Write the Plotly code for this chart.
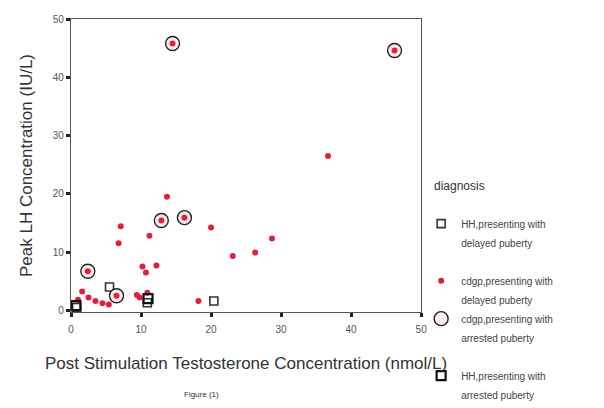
import plotly.graph_objects as go

# Data
hh_delayed_x = [20.4, 5.5, 10.9, 0.8]
hh_delayed_y = [1.6, 4.0, 1.3, 0.5]

cdgp_delayed_x = [36.7, 13.7, 7.1, 6.8, 11.2, 20.0, 28.7, 23.1, 26.3, 12.2, 10.2, 10.7,
                  18.2, 9.4, 10.9, 1.6, 2.5, 3.5, 4.5, 1.0, 5.4, 9.8]
cdgp_delayed_y = [26.5, 19.5, 14.4, 11.5, 12.8, 14.2, 12.3, 9.3, 9.9, 7.7, 7.5, 6.5,
                  1.6, 2.6, 3.0, 3.2, 2.2, 1.6, 1.2, 1.8, 1.0, 2.2]

cdgp_arrested_x = [14.5, 46.2, 12.9, 16.2, 2.4, 6.5]
cdgp_arrested_y = [45.8, 44.6, 15.4, 15.9, 6.7, 2.5]

hh_arrested_x = [11.0, 0.7]
hh_arrested_y = [2.0, 0.8]

legend_line1 = ["HH,presenting with", "cdgp,presenting with",
                "cdgp,presenting with", "HH,presenting with"]
legend_line2 = ["delayed puberty", "delayed puberty",
                "arrested puberty", "arrested puberty"]

x_ticks = [0, 10, 20, 30, 40, 50]
y_ticks = [0, 10, 20, 30, 40, 50]

FONT = "Liberation Sans, Arial, sans-serif"
RED = "#e3203c"


def second_line(text, group):
    return go.Scatter(x=[None], y=[None], mode="markers", name=text, legendgroup=group,
                      marker=dict(size=6, color="rgba(0,0,0,0)", line=dict(width=0)),
                      hoverinfo="skip")


fig = go.Figure()

# group 1: HH delayed
fig.add_trace(go.Scatter(
    x=hh_delayed_x, y=hh_delayed_y, mode="markers", name=legend_line1[0], legendgroup="g1",
    marker=dict(symbol="square-open", size=8, color="#333333", line=dict(width=1.6)),
))
fig.add_trace(second_line(legend_line2[0], "g1"))

# group 2: cdgp delayed + cdgp arrested
fig.add_trace(go.Scatter(
    x=cdgp_delayed_x, y=cdgp_delayed_y, mode="markers", name=legend_line1[1], legendgroup="g2",
    marker=dict(symbol="circle", size=6, color=RED, line=dict(width=0)),
))
fig.add_trace(second_line(legend_line2[1], "g2"))
fig.add_trace(go.Scatter(
    x=cdgp_arrested_x, y=cdgp_arrested_y, mode="markers", name=legend_line1[2], legendgroup="g2",
    marker=dict(symbol="circle", size=14, color="rgba(255,236,238,1)",
                line=dict(width=1.4, color="#222222")),
))
fig.add_trace(go.Scatter(
    x=cdgp_arrested_x, y=cdgp_arrested_y, mode="markers", showlegend=False, legendgroup="g2",
    marker=dict(symbol="circle", size=6, color=RED, line=dict(width=0)),
))
fig.add_trace(second_line(legend_line2[2], "g2"))

# group 3: HH arrested
fig.add_trace(go.Scatter(
    x=hh_arrested_x, y=hh_arrested_y, mode="markers", name=legend_line1[3], legendgroup="g3",
    marker=dict(symbol="square-open", size=9, color="#111111", line=dict(width=2.2)),
))
fig.add_trace(second_line(legend_line2[3], "g3"))

axis_common = dict(
    showgrid=False, zeroline=False, showline=True, linecolor="#555555", linewidth=1.3,
    mirror=True, ticks="outside", ticklen=4, tickwidth=2.5, tickcolor="#222222",
    tickfont=dict(family=FONT, size=10, color="#555555"),
    automargin=False,
)

fig.update_xaxes(range=[0, 50], tickvals=x_ticks, ticklabelstandoff=4,
                 title=dict(text="Post Stimulation Testosterone Concentration (nmol/L)",
                            font=dict(family=FONT, size=17, color="#333333"), standoff=22),
                 **axis_common)
fig.update_yaxes(range=[-0.3, 50], tickvals=y_ticks,
                 title=dict(text="Peak LH Concentration (IU/L)",
                            font=dict(family=FONT, size=17, color="#333333"), standoff=15),
                 **axis_common)

fig.update_layout(
    width=604, height=408,
    margin=dict(l=63, r=186, t=11, b=104),
    paper_bgcolor="white", plot_bgcolor="white",
    showlegend=True,
    legend=dict(
        x=0.684, xanchor="left", xref="container",
        y=0.507, yanchor="top", yref="container",
        font=dict(family=FONT, size=10, color="#444444"),
        tracegroupgap=19, itemwidth=30,
        bgcolor="rgba(0,0,0,0)",
    ),
    annotations=[
        dict(text="Figure (1)", x=0.372, xref="paper", y=-0.28, yref="paper",
             yanchor="middle", showarrow=False,
             font=dict(family=FONT, size=8, color="#333333")),
        dict(text="diagnosis", x=1.031, xref="paper", xanchor="left", y=0.43, yref="paper",
             yanchor="middle", showarrow=False,
             font=dict(family=FONT, size=12, color="#333333")),
    ],
)

fig.write_html("out.html")
